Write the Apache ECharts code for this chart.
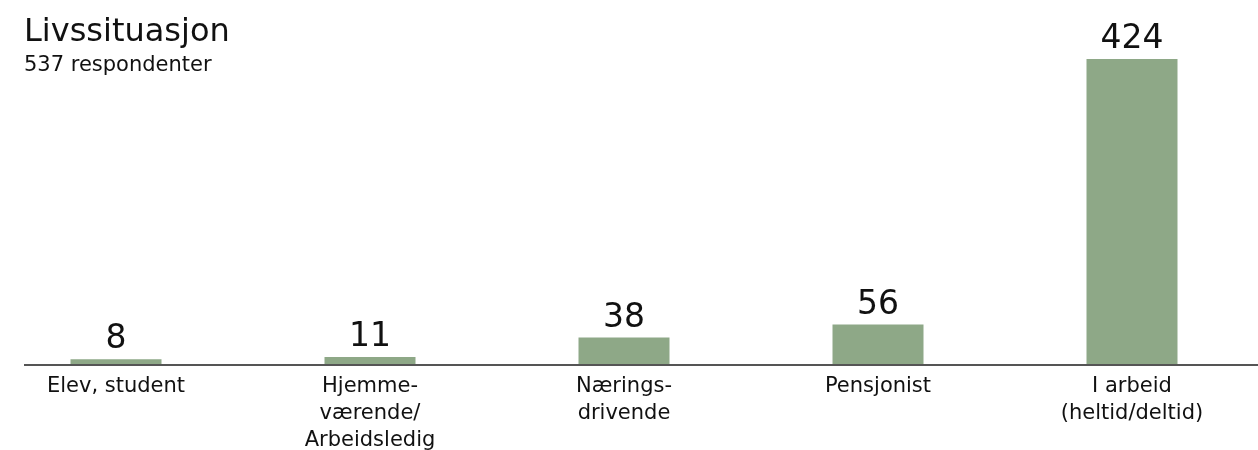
<!DOCTYPE html>
<html>
<head>
<meta charset="utf-8">
<script src="https://cdn.jsdelivr.net/npm/echarts@6/dist/echarts.min.js"></script>
<style>
  html, body { margin: 0; padding: 0; background: #fff; }
  #main { width: 1258px; height: 450px; }
</style>
</head>
<body>
<div id="main"></div>
<script>
// category labels and counts
var categories = ['Elev, student', 'Hjemme-\nværende/\nArbeidsledig', 'Nærings-\ndrivende', 'Pensjonist', 'I arbeid\n(heltid/deltid)'];
var counts = [8, 11, 38, 56, 424];
var titleText = 'Livssituasjon';
var subText = '537 respondenter';

var myChart = echarts.init(document.getElementById('main'));

var option = {
    animation: false,
    title: {
        text: titleText,
        subtext: subText,
        left: 19,
        top: 12,
        itemGap: 6,
        textStyle: { fontFamily: 'DejaVu Sans', fontSize: 32, fontWeight: 'normal', color: '#111' },
        subtextStyle: { fontFamily: 'DejaVu Sans', fontSize: 21, color: '#111' }
    },
    grid: { left: -11, right: -1, top: 59, bottom: 85, outerBoundsMode: 'none', containLabel: false },
    xAxis: {
        type: 'category',
        data: categories,
        axisLine: { show: false },
        axisTick: { show: false },
        axisLabel: {
            interval: 0,
            margin: 8,
            fontFamily: 'DejaVu Sans',
            fontSize: 21,
            lineHeight: 27,
            color: '#111'
        }
    },
    yAxis: {
        type: 'value',
        min: 0,
        max: 'dataMax',
        show: false,
        splitLine: { show: false }
    },
    graphic: [{
        type: 'line',
        shape: { x1: 24, y1: 365, x2: 1258, y2: 365 },
        style: { stroke: '#555', lineWidth: 2 },
        z: 10
    }],
    series: [{
        type: 'bar',
        data: counts,
        barWidth: 91,
        itemStyle: { color: '#8ea887' },
        label: {
            show: true,
            position: 'top',
            distance: 3,
            fontFamily: 'DejaVu Sans',
            fontSize: 33,
            color: '#111'
        }
    }]
};

myChart.setOption(option);
</script>
</body>
</html>
